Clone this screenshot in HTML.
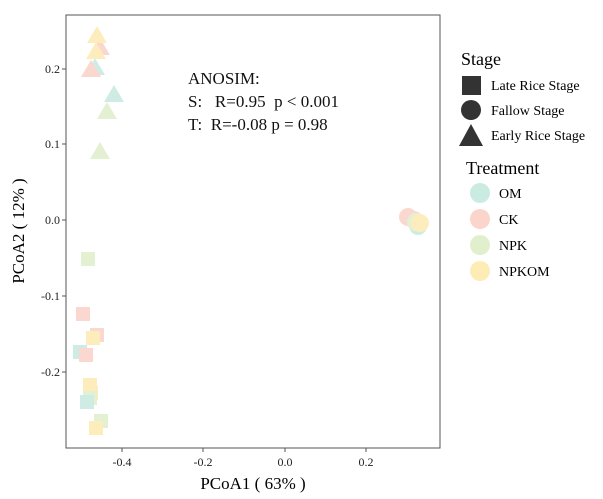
<!DOCTYPE html>
<html><head><style>body{margin:0;background:#fff}text{white-space:pre}</style></head><body>
<svg width="603" height="494" xmlns="http://www.w3.org/2000/svg" font-family="Liberation Serif, serif">
<rect x="66" y="15" width="374" height="433" fill="#fff" stroke="#555" stroke-width="1"/>
<g font-size="12" fill="#222" text-anchor="end">
<text x="60" y="73">0.2</text><text x="60" y="148">0.1</text><text x="60" y="224">0.0</text><text x="60" y="300">-0.1</text><text x="60" y="376">-0.2</text>
</g>
<g stroke="#555"><line x1="62" y1="69" x2="66" y2="69"/><line x1="62" y1="144" x2="66" y2="144"/><line x1="62" y1="220" x2="66" y2="220"/><line x1="62" y1="296" x2="66" y2="296"/><line x1="62" y1="372" x2="66" y2="372"/>
<line x1="122" y1="448" x2="122" y2="452"/><line x1="203" y1="448" x2="203" y2="452"/><line x1="285" y1="448" x2="285" y2="452"/><line x1="366" y1="448" x2="366" y2="452"/></g>
<g font-size="12" fill="#222" text-anchor="middle">
<text x="122" y="466">-0.4</text><text x="203" y="466">-0.2</text><text x="285" y="466">0.0</text><text x="366" y="466">0.2</text></g>
<text x="253" y="489" font-size="17" text-anchor="middle">PCoA1 ( 63% )</text>
<text transform="translate(24,231) rotate(-90)" font-size="17" text-anchor="middle">PCoA2 ( 12% )</text>
<g font-size="17" fill="#111"><text x="188" y="84">ANOSIM:</text><text x="188" y="107" xml:space="preserve">S:   R=0.95  p &lt; 0.001</text><text x="188" y="130" xml:space="preserve">T:  R=-0.08 p = 0.98</text></g>
<g opacity="0.75">
<g fill="#dcebc4"><polygon points="107,102 97,119 117,119"/><polygon points="100,142 90,159 110,159"/></g>
<polygon points="114,85 104,102 124,102" fill="#bfe6dc"/>
<polygon points="95,58 85,75 105,75" fill="#bfe6dc"/>
<polygon points="91,60 81,77 101,77" fill="#f9cbc0"/>
<polygon points="100,38 90,55 110,55" fill="#f9cbc0"/>
<polygon points="97,26 87,43 107,43" fill="#fde8a8"/>
<polygon points="96,42 86,59 106,59" fill="#fde8a8"/>
<rect x="81" y="252" width="14" height="14" fill="#dcebc4"/>
<rect x="76" y="307" width="14" height="14" fill="#f9cbc0"/>
<rect x="90" y="328" width="14" height="14" fill="#f9cbc0"/>
<rect x="86" y="331" width="14" height="14" fill="#fde8a8"/>
<rect x="73" y="345" width="14" height="14" fill="#bfe6dc"/>
<rect x="79" y="348" width="14" height="14" fill="#f9cbc0"/>
<rect x="83" y="378" width="14" height="14" fill="#fde8a8"/>
<rect x="84" y="386" width="14" height="14" fill="#fde8a8"/>
<rect x="83" y="391" width="14" height="14" fill="#dcebc4"/>
<rect x="80" y="395" width="14" height="14" fill="#bfe6dc"/>
<rect x="94" y="414" width="14" height="14" fill="#dcebc4"/>
<rect x="89" y="421" width="14" height="14" fill="#fde8a8"/>
<circle cx="408" cy="217" r="9" fill="#f9cbc0"/>
<circle cx="414" cy="220" r="9" fill="#f9cbc0"/>
<circle cx="418" cy="226" r="9" fill="#bfe6dc"/>
<circle cx="416" cy="222" r="9" fill="#dcebc4"/>
<circle cx="420" cy="223" r="9" fill="#fde8a8"/>
</g>
<text x="461" y="65" font-size="18">Stage</text>
<rect x="462" y="76" width="19" height="19" fill="#333"/>
<circle cx="471" cy="110" r="10" fill="#333"/>
<polygon points="471,124 459,146 483,146" fill="#333"/>
<g font-size="14"><text x="491" y="90">Late Rice Stage</text><text x="491" y="115">Fallow Stage</text><text x="491" y="140">Early Rice Stage</text></g>
<text x="466" y="174" font-size="18">Treatment</text>
<circle cx="480" cy="193" r="10" fill="#c9ebe2"/>
<circle cx="480" cy="219" r="10" fill="#fbd5cc"/>
<circle cx="480" cy="245" r="10" fill="#e2efcc"/>
<circle cx="480" cy="271" r="10" fill="#fdedb5"/>
<g font-size="14"><text x="499" y="198">OM</text><text x="499" y="224">CK</text><text x="499" y="250">NPK</text><text x="499" y="276">NPKOM</text></g>
</svg>
</body></html>
